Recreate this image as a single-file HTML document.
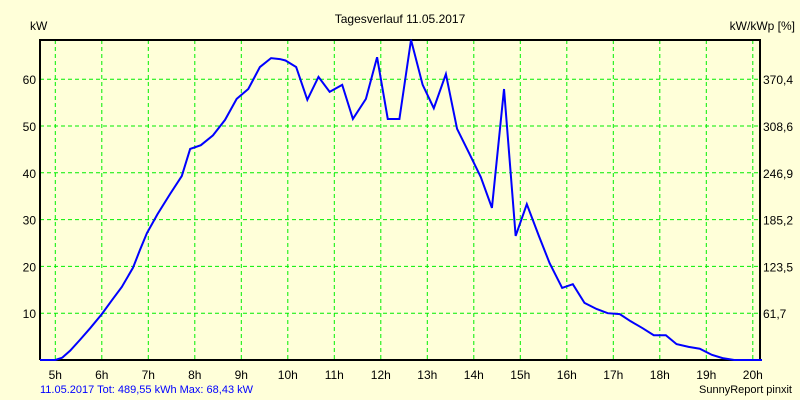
<!DOCTYPE html>
<html><head><meta charset="utf-8"><style>
body{margin:0;background:#ffffd9;}
svg{display:block;font-family:"Liberation Sans",sans-serif;}
</style></head><body>
<svg id="chart" width="800" height="400">
<rect width="800" height="400" fill="#ffffd9"/>
<g id="grid"></g>
<g id="axes"></g>
<polyline id="line" fill="none" stroke="#0000ff" stroke-width="2"/>
<text x="400" y="23" font-size="12" text-anchor="middle" fill="#000">Tagesverlauf 11.05.2017</text>
<text x="30" y="30" font-size="12" fill="#000">kW</text>
<text x="795" y="30" font-size="12" text-anchor="end" fill="#000">kW/kWp [%]</text>
<text x="40" y="393" font-size="11" fill="#0000ff">11.05.2017 Tot: 489,55 kWh Max: 68,43 kW</text>
<text x="792" y="393" font-size="11" text-anchor="end" fill="#000">SunnyReport pinxit</text>
</svg>
<script>
const hourTicks=[5,6,7,8,9,10,11,12,13,14,15,16,17,18,19,20];
const kwTicks=[10,20,30,40,50,60];
const pctLabels=["61,7","123,5","185,2","246,9","308,6","370,4"];
const times=[4.67,5,5.15,5.32,5.53,5.75,6,6.22,6.43,6.67,6.82,6.97,7.2,7.47,7.72,7.9,8.13,8.39,8.65,8.9,9.15,9.4,9.64,9.83,9.95,10.18,10.42,10.66,10.9,11.17,11.4,11.68,11.92,12.15,12.4,12.65,12.9,13.14,13.4,13.64,13.9,14.15,14.39,14.65,14.9,15.14,15.4,15.63,15.9,16.13,16.38,16.64,16.88,17.14,17.37,17.63,17.87,18.13,18.36,18.62,18.86,19.12,19.35,19.6,20.2];
const kw=[0,0,0.5,2,4.3,6.8,9.8,12.8,15.6,19.7,23.5,27.1,31.2,35.5,39.3,45.1,45.9,48,51.3,55.8,57.9,62.6,64.5,64.3,64,62.6,55.6,60.5,57.3,58.8,51.5,55.8,64.7,51.5,51.5,68.4,58.8,53.8,61.1,49.4,44.2,39.1,32.5,57.9,26.5,33.3,26.5,20.7,15.4,16.2,12.2,10.9,10,9.8,8.3,6.8,5.3,5.3,3.4,2.8,2.4,1.1,0.4,0,0];
const L=40,R=760,T=40,B=360;
const xs=t=>55.3+(t-5)*46.5;
const ys=v=>360-v*4.68;
const NS="http://www.w3.org/2000/svg";
const grid=document.getElementById('grid'),axes=document.getElementById('axes');
function mk(tag,at,parent){const e=document.createElementNS(NS,tag);for(const k in at)e.setAttribute(k,at[k]);parent.appendChild(e);return e;}
hourTicks.forEach(h=>{
  const g=mk('line',{x1:xs(h),x2:xs(h),y1:T,y2:B,stroke:'#00ee00','stroke-dasharray':'4,3'},grid);
  
  
  const t=mk('text',{x:xs(h),y:379,'font-size':12,'text-anchor':'middle',fill:'#000'},axes);
  t.textContent=h+'h';
  
  
});
kwTicks.forEach((v,i)=>{
  const g=mk('line',{x1:L,x2:R,y1:ys(v),y2:ys(v),stroke:'#00ee00','stroke-dasharray':'4,3'},grid);
  
  
  const t=mk('text',{x:36,y:ys(v)+5,'font-size':12,'text-anchor':'end',fill:'#000'},axes);
  t.textContent=v;
  
  
  const t2=mk('text',{x:763,y:ys(v)+5,'font-size':12,fill:'#000'},axes);
  t2.textContent=pctLabels[i];
  
  
});
const fr=mk('path',{d:`M${L} ${B}V${T}H${R}V${B}H${L}`,fill:'none',stroke:'#000','stroke-width':2},axes);


document.getElementById('line').setAttribute('points',times.map((t,i)=>Math.max(L,Math.min(R+2,xs(t)))+','+ys(kw[i])).join(' '));
</script>
</body></html>
